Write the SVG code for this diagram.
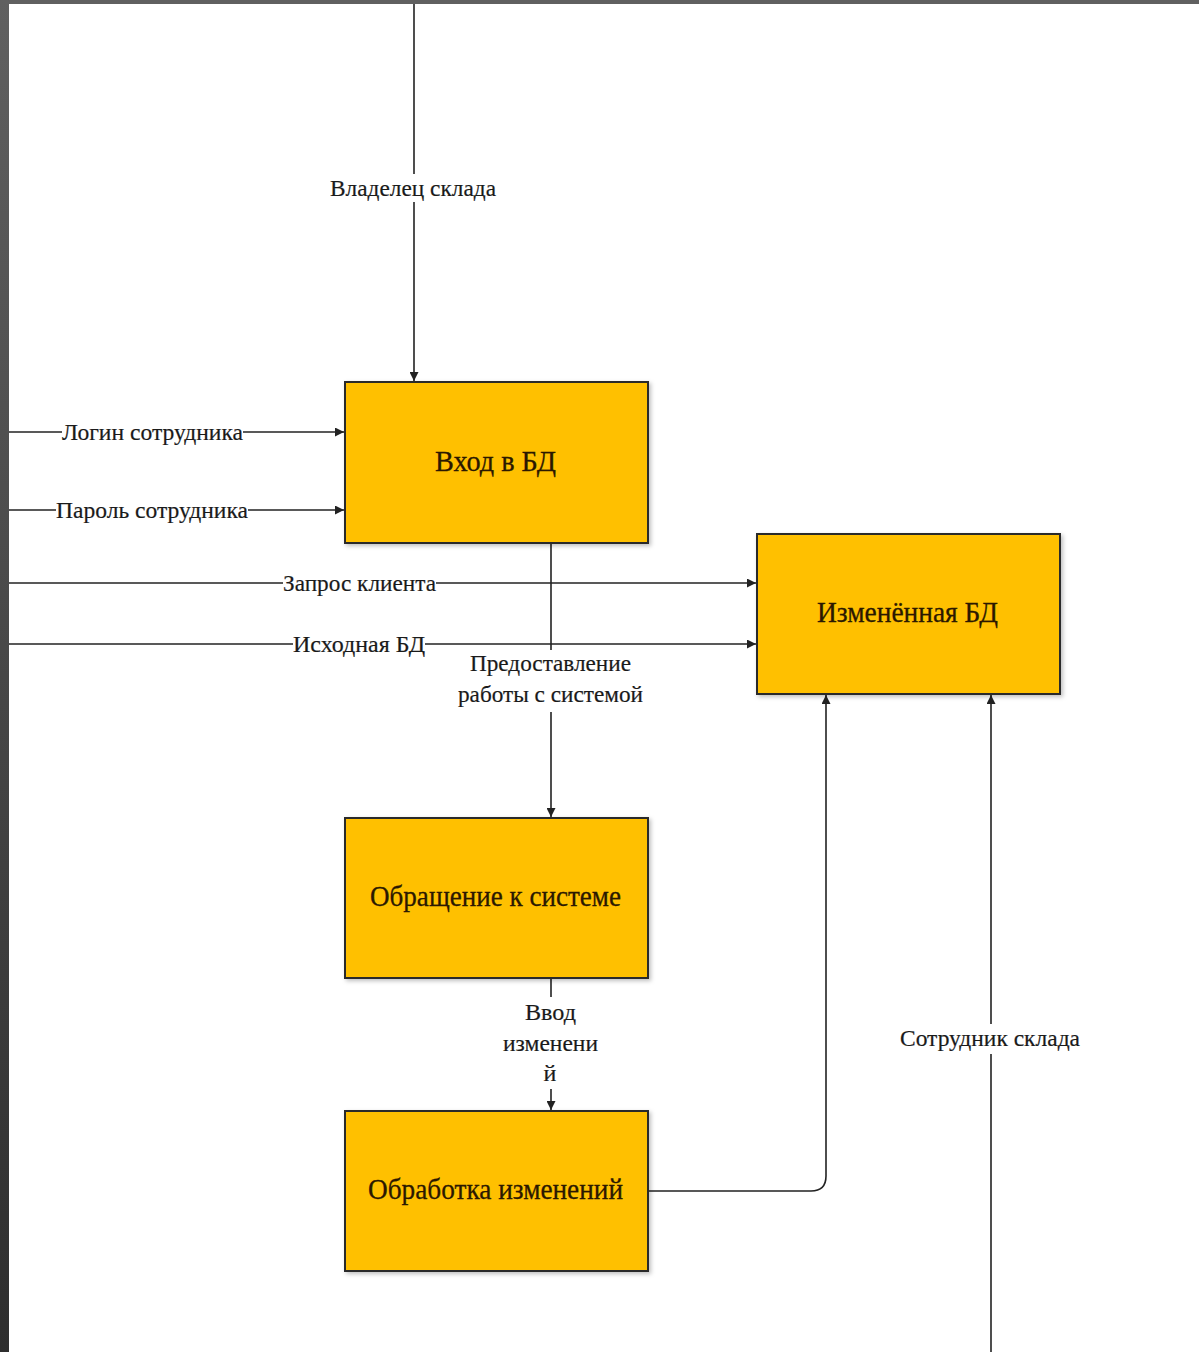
<svg xmlns="http://www.w3.org/2000/svg" width="1199" height="1352" viewBox="0 0 1199 1352">
<style>
.box{fill:#FFC000;stroke:#2a2a2a;stroke-width:2;filter:url(#sh)}
.bt{font-family:"Liberation Serif",serif;font-size:30px;fill:#2b1800;stroke:#2b1800;stroke-width:0.3;text-anchor:middle}
.lt{font-family:"Liberation Serif",serif;font-size:24px;fill:#1a1a1a;stroke:#1a1a1a;stroke-width:0.2;text-anchor:middle}
.ln{fill:none;stroke:#222;stroke-width:1.6}
.bg{fill:#fff}
</style>
<defs>
<linearGradient id="lg" x1="0" y1="0" x2="0" y2="1"><stop offset="0" stop-color="#606060"/><stop offset="1" stop-color="#2e2e2e"/></linearGradient>
<marker id="ar" viewBox="0 0 10 10" refX="10" refY="5" markerWidth="9" markerHeight="9" markerUnits="userSpaceOnUse" orient="auto"><path d="M0,0 L10,5 L0,10 z" fill="#222"/></marker>
<filter id="sh" x="-5%" y="-5%" width="112%" height="115%"><feDropShadow dx="2" dy="2" stdDeviation="2" flood-color="#000" flood-opacity="0.25"/></filter>
</defs>
<rect x="0" y="0" width="1199" height="1352" fill="#fff"/>
<rect x="0" y="0" width="1199" height="4" fill="#606060"/>
<rect x="0" y="0" width="9" height="1352" fill="url(#lg)"/>
<g id="connectors">
<path class="ln" d="M414,4 V381" marker-end="url(#ar)"/>
<path class="ln" d="M9,432 H344" marker-end="url(#ar)"/>
<path class="ln" d="M9,510 H344" marker-end="url(#ar)"/>
<path class="ln" d="M9,583 H756" marker-end="url(#ar)"/>
<path class="ln" d="M9,644 H756" marker-end="url(#ar)"/>
<path class="ln" d="M551,543 V817" marker-end="url(#ar)"/>
<path class="ln" d="M551,978 V1110" marker-end="url(#ar)"/>
<path class="ln" d="M648,1191 H811 Q826,1191 826,1176 V695" marker-end="url(#ar)"/>
<path class="ln" d="M991,1352 V695" marker-end="url(#ar)"/>
<rect class="bg" x="330" y="174" width="167" height="28"/>
<text class="lt" x="413" y="196" textLength="166" lengthAdjust="spacingAndGlyphs">Владелец склада</text>
<rect class="bg" x="62" y="418" width="181" height="28"/>
<text class="lt" x="152.5" y="440" textLength="181" lengthAdjust="spacingAndGlyphs">Логин сотрудника</text>
<rect class="bg" x="56" y="496" width="192" height="28"/>
<text class="lt" x="152" y="518" textLength="192" lengthAdjust="spacingAndGlyphs">Пароль сотрудника</text>
<rect class="bg" x="283" y="569" width="153" height="28"/>
<text class="lt" x="359.5" y="591" textLength="153" lengthAdjust="spacingAndGlyphs">Запрос клиента</text>
<rect class="bg" x="293" y="630" width="132" height="28"/>
<text class="lt" x="359" y="652" textLength="132" lengthAdjust="spacingAndGlyphs">Исходная БД</text>
<rect class="bg" x="456" y="650" width="190" height="62"/>
<text class="lt" x="550.5" y="671" textLength="161" lengthAdjust="spacingAndGlyphs">Предоставление</text>
<text class="lt" x="550.5" y="702" textLength="185" lengthAdjust="spacingAndGlyphs">работы с системой</text>
<rect class="bg" x="500" y="997" width="102" height="92"/>
<text class="lt" x="550.5" y="1020" textLength="51" lengthAdjust="spacingAndGlyphs">Ввод</text>
<text class="lt" x="550.5" y="1051" textLength="95" lengthAdjust="spacingAndGlyphs">изменени</text>
<text class="lt" x="550" y="1081">й</text>
<rect class="bg" x="898" y="1024" width="184" height="30"/>
<text class="lt" x="990" y="1046" textLength="180" lengthAdjust="spacingAndGlyphs">Сотрудник склада</text>
</g>
<g id="n1"><rect class="box" x="345" y="382" width="303" height="161"/><text class="bt" x="495.5" y="471" textLength="121" lengthAdjust="spacingAndGlyphs">Вход в БД</text></g>
<g id="n2"><rect class="box" x="757" y="534" width="303" height="160"/><text class="bt" x="907.5" y="622" textLength="181" lengthAdjust="spacingAndGlyphs">Изменённая БД</text></g>
<g id="n3"><rect class="box" x="345" y="818" width="303" height="160"/><text class="bt" x="495.5" y="906" textLength="251" lengthAdjust="spacingAndGlyphs">Обращение к системе</text></g>
<g id="n4"><rect class="box" x="345" y="1111" width="303" height="160"/><text class="bt" x="495.5" y="1199" textLength="255" lengthAdjust="spacingAndGlyphs">Обработка изменений</text></g>
</svg>
